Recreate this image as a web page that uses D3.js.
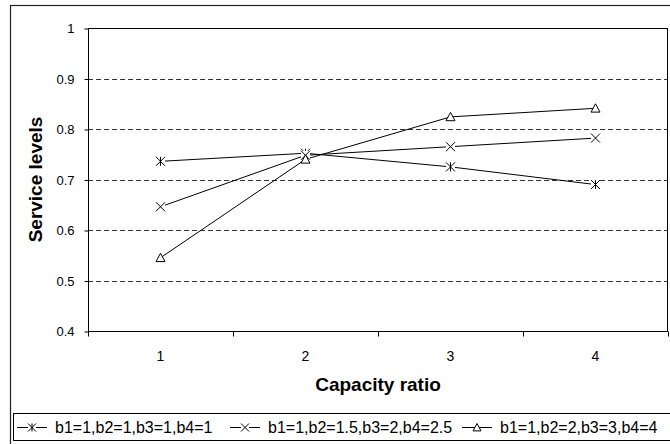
<!DOCTYPE html>
<html>
<head>
<meta charset="utf-8">
<script src="https://cdn.jsdelivr.net/npm/d3@7"></script>
<style>
  html, body { margin: 0; padding: 0; background: #fff; }
  svg { display: block; font-family: "Liberation Sans", Arial, sans-serif; }
</style>
</head>
<body>
<svg id="chart" width="670" height="444"></svg>
<script>
// Capacity ratio categories and service levels per parameter setting
const categories = [1, 2, 3, 4];
const seriesNames = ["b1=1,b2=1,b3=1,b4=1", "b1=1,b2=1.5,b3=2,b4=2.5", "b1=1,b2=2,b3=3,b4=4"];
const levelsEqual = [0.736, 0.752, 0.725, 0.690];
const levelsHalfStep = [0.646, 0.748, 0.765, 0.782];
const levelsUnitStep = [0.545, 0.740, 0.824, 0.841];
const yTicks = [0.4, 0.5, 0.6, 0.7, 0.8, 0.9, 1];
const markerTypes = ["asterisk", "cross", "triangle"];

const series = [levelsEqual, levelsHalfStep, levelsUnitStep].map((vals, i) => ({
  name: seriesNames[i],
  marker: markerTypes[i],
  points: categories.map((c, j) => ({ c, v: vals[j] }))
}));

const svg = d3.select("#chart");
const plot = { left: 88, top: 28, right: 668, bottom: 331 };

// Outer chart frame
svg.append("rect")
  .attr("x", 10.5).attr("y", 5.5)
  .attr("width", 680).attr("height", 460)
  .attr("fill", "#fff").attr("stroke", "#222").attr("stroke-width", 1.2);

const x = d3.scaleBand().domain(categories).range([plot.left, plot.right]).padding(0);
const y = d3.scaleLinear().domain([0.4, 1]).range([plot.bottom, plot.top]);

// Dashed horizontal gridlines
svg.append("g")
  .selectAll("line")
  .data(yTicks.filter(t => t > 0.4 && t < 1))
  .join("line")
  .attr("x1", plot.left).attr("x2", plot.right)
  .attr("y1", d => Math.round(y(d)) + 0.5).attr("y2", d => Math.round(y(d)) + 0.5)
  .attr("stroke", "#333").attr("stroke-width", 1)
  .attr("stroke-dasharray", "5,3");

// Plot area border
svg.append("rect")
  .attr("x", plot.left + 0.5).attr("y", plot.top + 0.5)
  .attr("width", plot.right - plot.left - 1).attr("height", plot.bottom - plot.top)
  .attr("fill", "none").attr("stroke", "#000").attr("stroke-width", 1);

// Y axis
const yAxis = svg.append("g")
  .attr("transform", `translate(${plot.left + 0.5},0.5)`)
  .call(d3.axisLeft(y).tickValues(yTicks).tickSize(4).tickPadding(10).tickFormat(d3.format("~g")));
yAxis.select(".domain").remove();
yAxis.selectAll(".tick line").attr("stroke", "#000");
yAxis.selectAll("text").attr("font-size", 13).attr("fill", "#000")
  .attr("font-family", "'Liberation Sans', Arial, sans-serif");

// X axis: ticks sit between categories
const xAxisG = svg.append("g").attr("transform", `translate(0,${plot.bottom + 0.5})`);
const boundaries = d3.range(categories.length + 1).map(i => plot.left + i * x.bandwidth());
xAxisG.append("line")
  .attr("x1", plot.left).attr("x2", plot.right)
  .attr("stroke", "#000");
xAxisG.selectAll(".bt")
  .data(boundaries)
  .join("line")
  .attr("class", "bt")
  .attr("x1", d => Math.round(d) + 0.5).attr("x2", d => Math.round(d) + 0.5)
  .attr("y1", 0).attr("y2", 5)
  .attr("stroke", "#000");
xAxisG.selectAll("text")
  .data(categories)
  .join("text")
  .attr("x", d => x(d) + x.bandwidth() / 2)
  .attr("y", 29)
  .attr("text-anchor", "middle")
  .attr("font-size", 14)
  .text(d => d);

// Axis titles
svg.append("text")
  .attr("x", (plot.left + plot.right) / 2).attr("y", 391)
  .attr("text-anchor", "middle")
  .attr("font-size", 19).attr("font-weight", "bold")
  .text("Capacity ratio");
svg.append("text")
  .attr("transform", `translate(42,${(plot.top + plot.bottom) / 2}) rotate(-90)`)
  .attr("text-anchor", "middle")
  .attr("font-size", 19).attr("font-weight", "bold")
  .text("Service levels");

// Marker drawing
function drawMarker(g, type, cx, cy, s) {
  if (type === "triangle") {
    g.append("path")
      .attr("d", `M${cx},${cy - s}L${cx + s},${cy + s * 0.85}L${cx - s},${cy + s * 0.85}Z`)
      .attr("fill", "#fff").attr("stroke", "#000").attr("stroke-width", 1);
  } else {
    g.append("rect")
      .attr("x", cx - s).attr("y", cy - s).attr("width", 2 * s).attr("height", 2 * s)
      .attr("fill", "#fff");
    g.append("path")
      .attr("d", `M${cx - s},${cy - s}L${cx + s},${cy + s}M${cx + s},${cy - s}L${cx - s},${cy + s}` +
        (type === "asterisk" ? `M${cx},${cy - s}L${cx},${cy + s}` : ""))
      .attr("fill", "none").attr("stroke", "#000").attr("stroke-width", 1);
  }
}

const line = d3.line()
  .x(d => x(d.c) + x.bandwidth() / 2)
  .y(d => y(d.v));

const linesG = svg.append("g");
series.forEach(s => {
  linesG.append("path")
    .attr("d", line(s.points))
    .attr("fill", "none").attr("stroke", "#000").attr("stroke-width", 1);
});
const markG = svg.append("g");
series.forEach(s => {
  s.points.forEach(p => {
    drawMarker(markG, s.marker, x(p.c) + x.bandwidth() / 2, y(p.v), 4.5);
  });
});

// Legend
const legend = svg.append("g");
legend.append("rect")
  .attr("x", 13.5).attr("y", 413.5)
  .attr("width", 670).attr("height", 27)
  .attr("fill", "#fff").attr("stroke", "#000").attr("stroke-width", 1);
const legendTextX = [55, 268, 500];
series.forEach((s, i) => {
  const tx = legendTextX[i];
  const cy = 427;
  const gi = legend.append("g");
  gi.append("line")
    .attr("x1", tx - 38).attr("x2", tx - 8)
    .attr("y1", cy + 0.5).attr("y2", cy + 0.5)
    .attr("stroke", "#000");
  drawMarker(gi, s.marker, tx - 23, cy + 0.5, 4);
  gi.append("text")
    .attr("x", tx).attr("y", cy + 6)
    .attr("font-size", 16)
    .text(s.name);
});
</script>
</body>
</html>
